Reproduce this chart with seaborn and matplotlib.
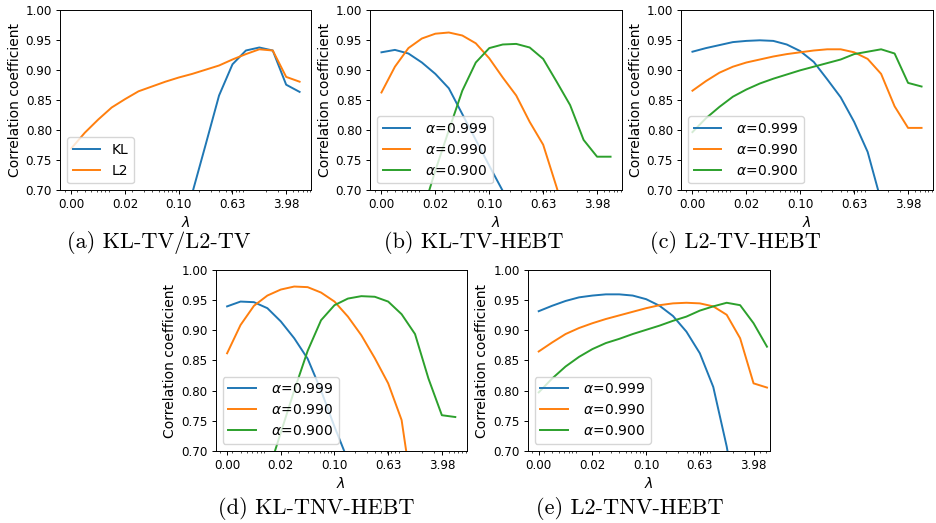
import numpy as np
import pandas as pd
import matplotlib
matplotlib.use("Agg")
import matplotlib.pyplot as plt
import seaborn as sns

# lambda grid (log spaced) and tick labels
lam = [0.002512, 0.003981, 0.00631, 0.01, 0.01585, 0.02512, 0.03981, 0.0631,
       0.1, 0.1585, 0.2512, 0.3981, 0.631, 1.0, 1.585, 2.512, 3.981, 6.31]
xticks = [0.002512, 0.01585, 0.1, 0.631, 3.981]
xticklabels = ["0.00", "0.02", "0.10", "0.63", "3.98"]
yticks = [0.70, 0.75, 0.80, 0.85, 0.90, 0.95, 1.00]

alpha_labels = [r" $\alpha$=0.999", r" $\alpha$=0.990", r" $\alpha$=0.900"]

# (a) KL-TV / L2-TV
a_kl = [0.30, 0.33, 0.36, 0.40, 0.44, 0.49, 0.54, 0.59, 0.64, 0.695, 0.776, 0.858,
        0.910, 0.933, 0.938, 0.933, 0.876, 0.864]
a_l2 = [0.770, 0.796, 0.818, 0.838, 0.852, 0.865, 0.873, 0.881, 0.888, 0.894, 0.901,
        0.908, 0.918, 0.927, 0.935, 0.933, 0.889, 0.881]

# (b) KL-TV-HEBT
b_999 = [0.930, 0.934, 0.928, 0.913, 0.894, 0.870, 0.827, 0.784, 0.741, 0.699, 0.65,
         0.60, 0.55, 0.50, 0.45, 0.40, 0.35, 0.30]
b_990 = [0.863, 0.906, 0.937, 0.953, 0.961, 0.963, 0.958, 0.945, 0.920, 0.888, 0.858,
         0.814, 0.776, 0.705, 0.63, 0.57, 0.52, 0.50]
b_900 = [0.50, 0.56, 0.61, 0.66, 0.733, 0.800, 0.866, 0.913, 0.937, 0.943, 0.944,
         0.938, 0.919, 0.881, 0.842, 0.784, 0.756, 0.756]

# (c) L2-TV-HEBT
c_999 = [0.931, 0.937, 0.942, 0.947, 0.949, 0.950, 0.949, 0.943, 0.932, 0.914, 0.885,
         0.855, 0.814, 0.764, 0.682, 0.60, 0.52, 0.45]
c_990 = [0.866, 0.882, 0.896, 0.906, 0.913, 0.918, 0.923, 0.927, 0.930, 0.933, 0.935,
         0.935, 0.930, 0.919, 0.894, 0.840, 0.804, 0.804]
c_900 = [0.797, 0.820, 0.839, 0.856, 0.868, 0.878, 0.886, 0.893, 0.900, 0.906, 0.912,
         0.918, 0.927, 0.931, 0.935, 0.928, 0.879, 0.873]

# (d) KL-TNV-HEBT
d_999 = [0.940, 0.948, 0.947, 0.937, 0.915, 0.887, 0.853, 0.800, 0.740, 0.684, 0.62,
         0.56, 0.50, 0.45, 0.40, 0.35, 0.30, 0.25]
d_990 = [0.862, 0.909, 0.941, 0.958, 0.968, 0.973, 0.972, 0.963, 0.948, 0.923, 0.892,
         0.854, 0.812, 0.751, 0.60, 0.52, 0.47, 0.45]
d_900 = [0.50, 0.56, 0.61, 0.66, 0.73, 0.80, 0.866, 0.917, 0.942, 0.953, 0.957,
         0.956, 0.948, 0.927, 0.894, 0.820, 0.759, 0.756]

# (e) L2-TNV-HEBT
e_999 = [0.932, 0.941, 0.949, 0.955, 0.958, 0.960, 0.960, 0.958, 0.952, 0.941, 0.924,
         0.898, 0.862, 0.806, 0.707, 0.58, 0.50, 0.45]
e_990 = [0.865, 0.880, 0.894, 0.904, 0.912, 0.919, 0.925, 0.931, 0.937, 0.942, 0.945,
         0.946, 0.945, 0.940, 0.926, 0.887, 0.812, 0.805]
e_900 = [0.797, 0.820, 0.840, 0.856, 0.869, 0.879, 0.886, 0.894, 0.901, 0.908, 0.916,
         0.923, 0.933, 0.940, 0.946, 0.942, 0.912, 0.873]

panels = [
    ("(a) KL-TV/L2-TV", ["KL", "L2"], [a_kl, a_l2]),
    ("(b) KL-TV-HEBT", alpha_labels, [b_999, b_990, b_900]),
    ("(c) L2-TV-HEBT", alpha_labels, [c_999, c_990, c_900]),
    ("(d) KL-TNV-HEBT", alpha_labels, [d_999, d_990, d_900]),
    ("(e) L2-TNV-HEBT", alpha_labels, [e_999, e_990, e_900]),
]

W, H = 936, 523
# axes boxes in pixels: left, top, right, bottom
boxes = [
    (60, 10.3, 311, 190.3),
    (370, 10.3, 622, 190.3),
    (681, 10.3, 933, 190.3),
    (215.7, 270.3, 466.7, 450.7),
    (527.7, 270.3, 770, 450.7),
]
captions_xy = [(159, 243), (474, 243), (735, 243), (316, 508), (630, 508)]

colors = sns.color_palette("tab10")

fig = plt.figure(figsize=(W / 100, H / 100), dpi=100)

for i, (caption, labels, series) in enumerate(panels):
    l, t, r, b = boxes[i]
    ax = fig.add_axes([l / W, 1 - b / H, (r - l) / W, (b - t) / H])

    for j, (lab, vals) in enumerate(zip(labels, series)):
        df = pd.DataFrame({"lam": lam, "corr": vals})
        sns.lineplot(data=df, x="lam", y="corr", ax=ax, color=colors[j],
                     label=lab, linewidth=1.4)

    ax.set_xscale("log")
    ax.set_xticks(xticks)
    ax.set_xticklabels(xticklabels)
    if i == 4:
        ax.set_xlim(10 ** -2.764, 10 ** 0.845)
    ax.set_ylim(0.70, 1.00)
    ax.set_yticks(yticks)
    ax.set_yticklabels([f"{v:.2f}" for v in yticks])
    ax.tick_params(which="major", labelsize=8.6, length=2.9, pad=2.8, width=0.7)
    ax.tick_params(which="minor", length=1.7, width=0.5)
    for sp in ax.spines.values():
        sp.set_linewidth(0.7)
    ax.set_xlabel(r"$\lambda$", fontsize=10.3, labelpad=3)
    ax.set_ylabel("Correlation coefficient", fontsize=10, labelpad=3)
    ax.legend(loc="lower left", fontsize=10)

    cx, cy = captions_xy[i]
    fig.text(cx / W, 1 - cy / H, caption, ha="center", va="center",
             fontsize=16, family="cmr10")

fig.savefig("out.png", dpi=100)
